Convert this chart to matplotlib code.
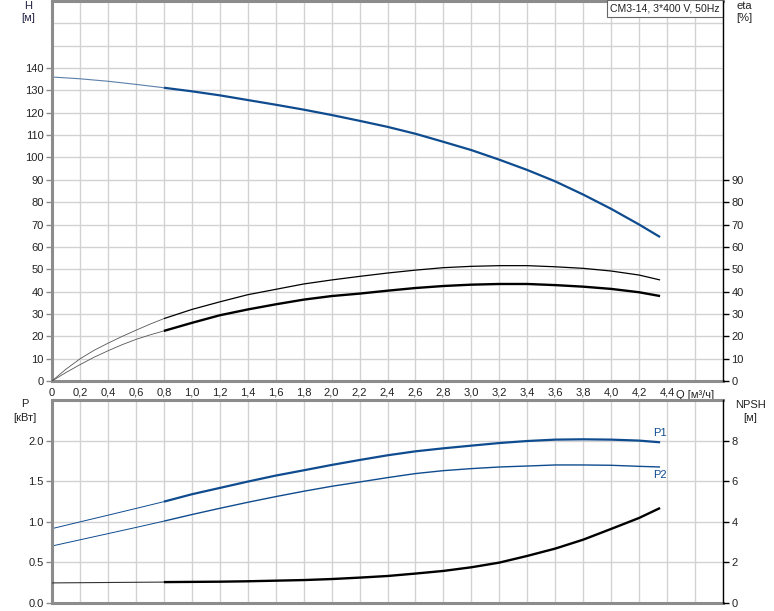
import numpy as np
import matplotlib
matplotlib.use("Agg")
import matplotlib.pyplot as plt

plt.rcParams.update({
    "font.family": ["Liberation Sans", "DejaVu Sans"],
    "font.size": 8,
})

# ── Данные ───────────────────────────────────────────────────────────
q = [0, 0.2, 0.4, 0.6, 0.8, 1.0, 1.2, 1.4, 1.6, 1.8, 2.0, 2.2, 2.4, 2.6,
     2.8, 3.0, 3.2, 3.4, 3.6, 3.8, 4.0, 4.2, 4.35]
head = [136, 135.2, 134.1, 132.7, 131.2, 129.6, 127.8, 125.7, 123.6, 121.4,
        119.0, 116.4, 113.7, 110.6, 107.0, 103.3, 99.0, 94.4, 89.3, 83.4,
        77.0, 70.0, 64.4]
p1 = [0.916, 0.999, 1.081, 1.164, 1.248, 1.339, 1.417, 1.495, 1.569, 1.634,
      1.700, 1.761, 1.819, 1.868, 1.905, 1.938, 1.970, 1.995, 2.012, 2.016,
      2.012, 2.000, 1.979]
p2 = [0.702, 0.778, 0.854, 0.930, 1.008, 1.089, 1.166, 1.240, 1.310, 1.376,
      1.437, 1.490, 1.544, 1.594, 1.630, 1.655, 1.675, 1.687, 1.700, 1.700,
      1.696, 1.683, 1.675]
npsh = [0.99, 1.0, 1.01, 1.02, 1.03, 1.04, 1.05, 1.07, 1.10, 1.13, 1.18,
        1.25, 1.33, 1.45, 1.58, 1.76, 1.99, 2.32, 2.68, 3.12, 3.65, 4.19, 4.68]

# КПД: у нуля кривые сильно изогнуты, поэтому точек чаще
q_eta = [0, 0.1, 0.2, 0.3, 0.4, 0.5, 0.6, 0.7, 0.8, 1.0, 1.2, 1.4, 1.6,
         1.8, 2.0, 2.2, 2.4, 2.6, 2.8, 3.0, 3.2, 3.4, 3.6, 3.8, 4.0, 4.2,
         4.35]
eta_pump = [0, 5.3, 9.9, 13.7, 16.9, 19.9, 22.7, 25.4, 27.9, 32.0, 35.4,
            38.6, 41.0, 43.4, 45.2, 46.8, 48.3, 49.6, 50.7, 51.3, 51.6,
            51.6, 51.1, 50.4, 49.2, 47.4, 45.2]
eta_total = [0, 3.8, 7.3, 10.6, 13.5, 16.2, 18.6, 20.6, 22.4, 26.0, 29.4,
             32.0, 34.3, 36.4, 38.0, 39.1, 40.4, 41.6, 42.5, 43.1, 43.4,
             43.4, 42.9, 42.2, 41.2, 39.7, 38.0]

h_ticks = [0, 10, 20, 30, 40, 50, 60, 70, 80, 90, 100, 110, 120, 130, 140]
eta_ticks = [0, 10, 20, 30, 40, 50, 60, 70, 80, 90]
p_ticks = [0.0, 0.5, 1.0, 1.5, 2.0]
npsh_ticks = [0, 2, 4, 6, 8]

BLUE = "#0f4c8f"
GRID = "#d2d2d2"
SPINE = "#8c8c8c"
Q_SPLIT = 0.8  # до Q=0,8 тонкая линия

X_MAX = 4.78


def style_axes(ax, twin):
    ax.set_xlim(0, X_MAX)
    ax.set_xticks(np.arange(0, 4.81, 0.2))
    ax.grid(True, color=GRID, linewidth=1.0)
    ax.set_axisbelow(True)
    for side in ["left", "top", "bottom"]:
        ax.spines[side].set_color(SPINE)
        ax.spines[side].set_linewidth(2.2)
    ax.spines["right"].set_visible(False)
    twin.spines["right"].set_color("black")
    twin.spines["right"].set_linewidth(1.0)
    for side in ["left", "top", "bottom"]:
        twin.spines[side].set_visible(False)
    ax.tick_params(axis="y", direction="out", length=4, color=SPINE,
                   width=1, pad=2, labelcolor="#222222")
    twin.tick_params(axis="y", direction="out", length=4, color="black",
                     width=1, pad=2, labelcolor="#222222")


def two_part(ax, x, y, color, lw_thin, lw_thick, thin_color=None):
    k = x.index(Q_SPLIT)
    ax.plot(x[:k + 1], y[:k + 1], color=thin_color or color,
            linewidth=lw_thin, solid_capstyle="butt")
    ax.plot(x[k:], y[k:], color=color, linewidth=lw_thick,
            solid_capstyle="butt")


fig = plt.figure(figsize=(7.74, 6.11), dpi=100)

# ── Верхний график: H и eta ──────────────────────────────────────────
ax1 = fig.add_axes([52 / 774, 1 - 381 / 611, 671 / 774, 380 / 611])
ax1e = ax1.twinx()
style_axes(ax1, ax1e)
ax1.set_ylim(0, 170)
ax1e.set_ylim(0, 170)
grid_h = list(range(0, 171, 10))
ax1.set_yticks(grid_h)
ax1.set_yticklabels([str(v) if v in h_ticks else "" for v in grid_h])
for t, v in zip(ax1.yaxis.get_major_ticks(), grid_h):
    if v not in h_ticks:
        t.tick1line.set_visible(False)
ax1e.set_yticks(eta_ticks)
ax1e.set_yticklabels([str(v) for v in eta_ticks])

two_part(ax1, q, head, BLUE, 0.8, 1.6, thin_color="#5a7fa8")
two_part(ax1e, q_eta, eta_pump, "black", 0.6, 0.9, thin_color="#555555")
two_part(ax1e, q_eta, eta_total, "black", 0.6, 1.7, thin_color="#555555")

ax1.set_xticklabels([(f"{v:.1f}".replace(".", ",") if v < 4.5 else "")
                     if v > 0 else "0" for v in np.arange(0, 4.81, 0.2)])
ax1.tick_params(axis="x", length=0, pad=5, labelcolor="#222222")
ax1.text(4.6, -0.025, "Q [м³/ч]", transform=ax1.get_xaxis_transform(),
         ha="center", va="top", color="#222222")

ax1.text(0.995, 0.993, "CM3-14, 3*400 V, 50Hz", transform=ax1.transAxes,
         ha="right", va="top", fontsize=7.6, color="#222222", zorder=10,
         bbox=dict(boxstyle="square,pad=0.3", facecolor="white",
                   edgecolor="#666666", linewidth=0.8))

fig.text(28 / 774, 1 - 6 / 611, "H", ha="center", va="center", color="#222244")
fig.text(28 / 774, 1 - 18 / 611, "[м]", ha="center", va="center", color="#222244")
fig.text(744 / 774, 1 - 6 / 611, "eta", ha="center", va="center", color="#222222")
fig.text(744 / 774, 1 - 18 / 611, "[%]", ha="center", va="center", color="#222222")

# ── Нижний график: P и NPSH ──────────────────────────────────────────
ax2 = fig.add_axes([52 / 774, 1 - 603 / 611, 671 / 774, 203 / 611])
ax2n = ax2.twinx()
style_axes(ax2, ax2n)
ax2.set_ylim(0, 2.5)
ax2n.set_ylim(0, 10)
ax2.set_yticks(p_ticks)
ax2.set_yticklabels([f"{v:.1f}" for v in p_ticks])
ax2n.set_yticks(npsh_ticks)
ax2.set_xticklabels([])
ax2.tick_params(axis="x", length=0)

two_part(ax2, q, p1, BLUE, 0.7, 1.6)
two_part(ax2, q, p2, BLUE, 0.7, 1.0)
two_part(ax2n, q, npsh, "black", 0.8, 1.7, thin_color="#333333")

ax2.annotate("P1", (q[-1], p1[-1]), xytext=(0, 3), textcoords="offset points",
             ha="center", va="bottom", color=BLUE)
ax2.annotate("P2", (q[-1], p2[-1]), xytext=(0, -2), textcoords="offset points",
             ha="center", va="top", color=BLUE)

fig.text(25 / 774, 1 - 404 / 611, "P", ha="center", va="center", color="#222222")
fig.text(25 / 774, 1 - 418 / 611, "[кВт]", ha="center", va="center", color="#222222")
fig.text(750 / 774, 1 - 405 / 611, "NPSH", ha="center", va="center", color="#222222")
fig.text(750 / 774, 1 - 418 / 611, "[м]", ha="center", va="center", color="#222222")

fig.savefig("out.png", dpi=100)
